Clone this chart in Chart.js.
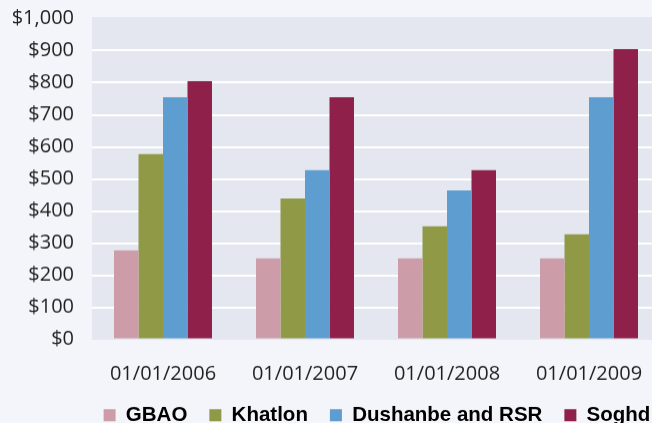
<!DOCTYPE html>
<html>
<head>
<meta charset="utf-8">
<script src="https://cdn.jsdelivr.net/npm/chart.js@4"></script>
<style>
  html, body { margin: 0; padding: 0; overflow: hidden; background: #f4f5fa; }
  #wrap { position: relative; width: 668px; height: 437.5px; }
</style>
</head>
<body>
<div id="wrap"><canvas id="chart"></canvas></div>
<script>
// Categories and series
const dates = ['01/01/2006', '01/01/2007', '01/01/2008', '01/01/2009'];
const gbao = [277, 252, 252, 252];
const khatlon = [577, 439, 352, 327];
const dushanbe = [755, 527, 464, 755];
const soghd = [805, 755, 527, 905];

// Plot area background, a bit taller than the scale range
const plotBackground = {
    id: 'plotBackground',
    beforeDraw(chart) {
        const { ctx, chartArea: a } = chart;
        ctx.save();
        ctx.fillStyle = '#e4e7f0';
        ctx.fillRect(a.left, a.top - 1.5, a.right - a.left, a.bottom - a.top + 2);
        ctx.restore();
    }
};

// Shift the legend row so it sits under the middle of the plot
const legendShift = {
    id: 'legendShift',
    afterInit(chart) {
        const legend = chart.legend;
        if (!legend || legend._shifted) return;
        legend._shifted = true;
        const draw = legend.draw;
        legend.draw = function () {
            chart.ctx.save();
            chart.ctx.translate(47, -3);
            draw.apply(this, arguments);
            chart.ctx.restore();
        };
    }
};

const ctx = document.getElementById('chart').getContext('2d');
new Chart(ctx, {
    type: 'bar',
    data: {
        labels: dates,
        datasets: [
            { label: 'GBAO', data: gbao, backgroundColor: '#cc9da8' },
            { label: 'Khatlon', data: khatlon, backgroundColor: '#8f9946' },
            { label: 'Dushanbe and RSR', data: dushanbe, backgroundColor: '#5e9dcf' },
            { label: 'Soghd', data: soghd, backgroundColor: '#8e2049' }
        ]
    },
    options: {
        responsive: true,
        maintainAspectRatio: false,
        animation: false,
        layout: { padding: { top: 18.5, right: 8, bottom: 0, left: 0 } },
        datasets: {
            bar: { categoryPercentage: 0.69, barPercentage: 1, borderWidth: 0 }
        },
        scales: {
            x: {
                grid: { display: false, drawTicks: false },
                border: { display: false },
                ticks: {
                    padding: 23,
                    color: '#1f1f1f',
                    font: { family: 'Open Sans', size: 20 }
                },
                afterFit(scale) { scale.height = 46.5; }
            },
            y: {
                min: 0,
                max: 1000,
                grid: {
                    drawTicks: false,
                    lineWidth: 2,
                    color: c => (c.tick && (c.tick.value === 0 || c.tick.value === 1000)) ? 'rgba(0,0,0,0)' : '#ffffff'
                },
                border: { display: false },
                ticks: {
                    stepSize: 100,
                    padding: 18,
                    color: '#1f1f1f',
                    font: { family: 'Open Sans', size: 20 },
                    callback: v => '$' + v.toLocaleString('en-US')
                },
                afterFit(scale) {
                    scale.width = 92;
                    scale.paddingTop = 0;
                    scale.paddingBottom = 0;
                }
            }
        },
        plugins: {
            legend: {
                position: 'bottom',
                labels: {
                    boxWidth: 12,
                    boxHeight: 12,
                    padding: 22,
                    color: '#000000',
                    font: { family: 'Liberation Sans', size: 20.5, weight: 'bold' }
                }
            },
            tooltip: { enabled: false }
        }
    },
    plugins: [plotBackground, legendShift]
});
</script>
</body>
</html>
